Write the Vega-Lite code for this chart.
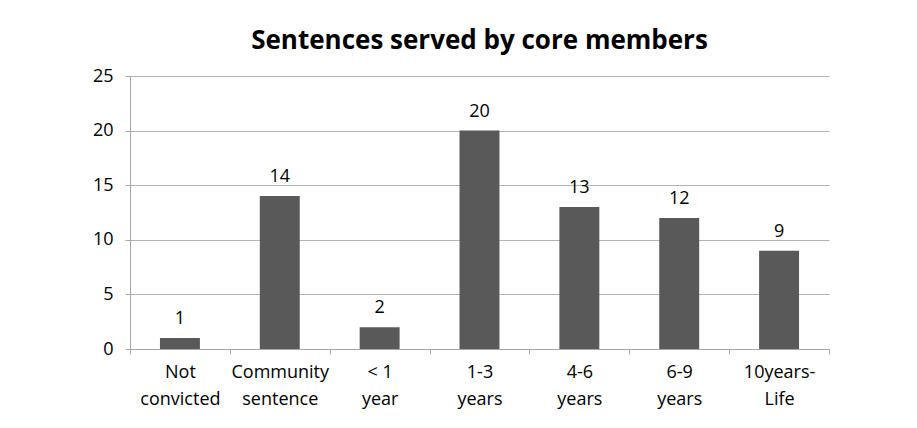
{
  "$schema": "https://vega.github.io/schema/vega-lite/v6.json",
  "width": 699,
  "height": 273,
  "padding": {"left": 130, "top": 76, "right": 88, "bottom": 79},
  "autosize": "none",
  "background": "white",
  "title": {
    "text": "Sentences served by core members",
    "font": "Open Sans",
    "fontSize": 26,
    "fontWeight": "bold",
    "color": "#000000",
    "anchor": "middle",
    "baseline": "alphabetic",
    "offset": -8
  },
  "data": {
    "values": [
      {"category": "Not\nconvicted", "count": 1},
      {"category": "Community\nsentence", "count": 14},
      {"category": "< 1\nyear", "count": 2},
      {"category": "1-3\nyears", "count": 20},
      {"category": "4-6\nyears", "count": 13},
      {"category": "6-9\nyears", "count": 12},
      {"category": "10years-\nLife", "count": 9}
    ]
  },
  "encoding": {
    "x": {
      "field": "category",
      "type": "nominal",
      "sort": null,
      "scale": {"paddingInner": 0, "paddingOuter": 0},
      "axis": {
        "title": null,
        "labelAngle": 0,
        "labelExpr": "split(datum.label, '\\n')",
        "labelFont": "Open Sans",
        "labelFontSize": 18,
        "labelColor": "#000000",
        "labelLineHeight": 27,
        "labelPadding": 9,
        "labelBaseline": "top",
        "tickBand": "extent",
        "tickSize": 5,
        "tickColor": "#a6a6a6",
        "domainColor": "#a6a6a6",
        "grid": false
      }
    },
    "y": {
      "field": "count",
      "type": "quantitative",
      "scale": {"domain": [0, 25]},
      "axis": {
        "title": null,
        "values": [0, 5, 10, 15, 20, 25],
        "labelFont": "Open Sans",
        "labelFontSize": 18,
        "labelColor": "#000000",
        "labelPadding": 12,
        "tickSize": 5,
        "tickColor": "#a6a6a6",
        "domainColor": "#a6a6a6",
        "gridColor": "#b3b3b3",
        "grid": true
      }
    }
  },
  "layer": [
    {"mark": {"type": "bar", "color": "#595959", "width": {"band": 0.4}}},
    {
      "mark": {"type": "text", "font": "Open Sans", "fontSize": 18, "color": "#000000", "baseline": "alphabetic", "dy": -14},
      "encoding": {"text": {"field": "count", "type": "quantitative"}}
    }
  ],
  "config": {"view": {"stroke": null}}
}
